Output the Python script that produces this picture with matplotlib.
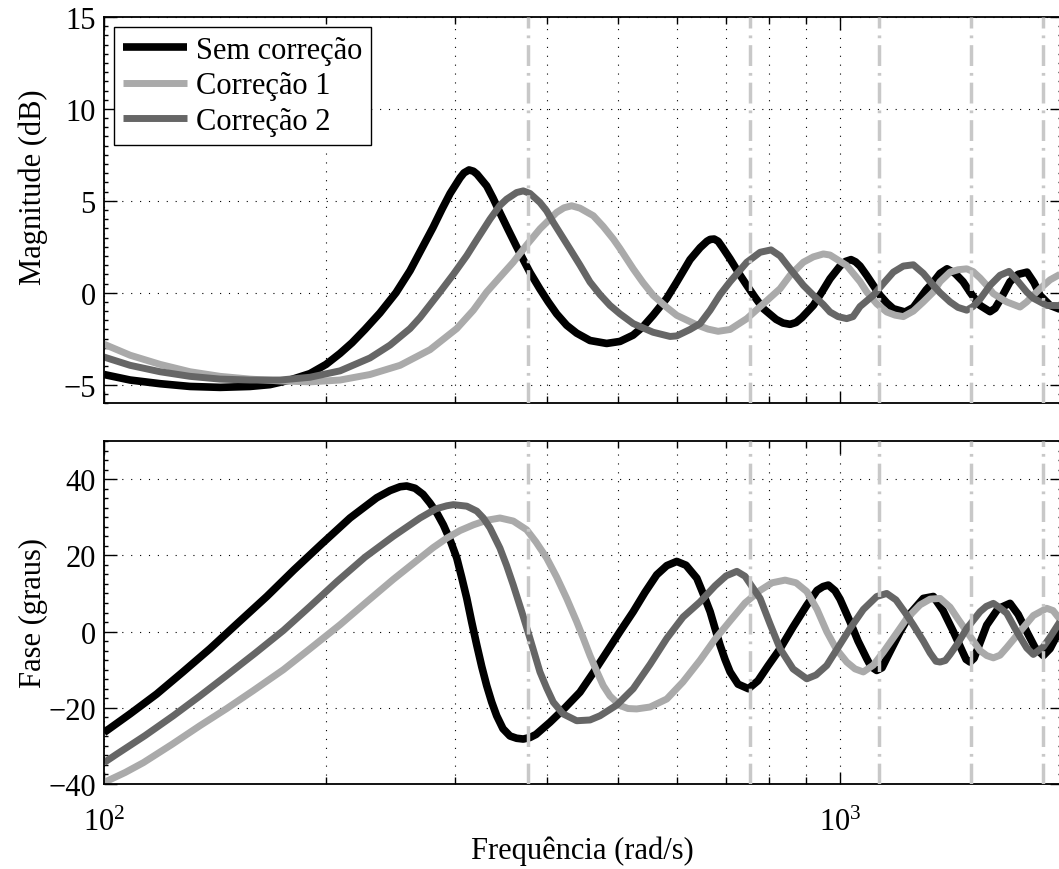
import numpy as np
import matplotlib
matplotlib.use('Agg')
import matplotlib.pyplot as plt
from matplotlib.ticker import LogLocator, NullFormatter, MultipleLocator

plt.rcParams['font.family'] = ['Liberation Serif', 'DejaVu Serif']
plt.rcParams['mathtext.fontset'] = 'custom'
plt.rcParams['mathtext.rm'] = 'Liberation Serif'
plt.rcParams['mathtext.it'] = 'Liberation Serif:italic'
plt.rcParams['font.size'] = 22

# Resposta em frequencia: (rad/s, valor)
mag_sem = [
    (100, -4.45), (108.5, -4.75), (119.2, -4.95), (130.9, -5.1), (143.8, -5.15), (157.9, -5.1),
    (168.1, -5.0), (178.9, -4.75), (190.5, -4.4), (200.3, -3.9), (209.3, -3.3), (217.3, -2.72),
    (226.2, -2.0), (237.1, -1.1), (249.3, 0.0), (260.5, 1.2), (269.4, 2.3), (279.9, 3.55),
    (287.9, 4.55), (295.3, 5.4), (304.6, 6.25), (308.4, 6.52), (313.3, 6.68), (317.6, 6.61),
    (321.2, 6.45), (331.1, 5.81), (337.7, 5.15), (345.1, 4.35), (353.9, 3.45), (363.6, 2.5),
    (371.2, 1.8), (379.1, 1.1), (391.1, 0.2), (401.4, -0.5), (412.1, -1.15), (425.2, -1.77),
    (438.7, -2.2), (457.4, -2.6), (481.9, -2.76), (502.4, -2.65), (523.3, -2.31), (539.9, -1.85),
    (557.1, -1.23), (581.6, -0.3), (600.0, 0.58), (625.5, 1.8), (645.5, 2.45), (659.6, 2.8),
    (666.1, 2.9), (674.5, 2.92), (682.9, 2.8), (691.3, 2.5), (709.0, 1.84), (731.6, 0.95),
    (747.1, 0.40), (766.4, -0.25), (786.9, -0.87), (818.7, -1.45), (836.8, -1.65), (855.4, -1.72),
    (871.4, -1.62), (887.8, -1.35), (919.9, -0.69), (945.3, 0.05), (969.2, 0.76), (1000, 1.45),
    (1017.4, 1.7), (1035, 1.8), (1049.7, 1.68), (1064.6, 1.45), (1087.1, 0.94), (1109.8, 0.4),
    (1133.3, -0.14), (1157.3, -0.55), (1181.4, -0.87), (1225.5, -1.05), (1257.8, -0.8),
    (1284.4, -0.3), (1309.0, 0.15), (1339.0, 0.58), (1367.4, 1.05), (1397.7, 1.3), (1433.1, 1.05),
    (1469.4, 0.6), (1506.6, -0.05), (1549.6, -0.69), (1598.8, -1.03), (1624.1, -0.85),
    (1649.8, -0.4), (1702.1, 0.6), (1745.8, 1.0), (1795, 1.12), (1834.7, 0.55), (1869.5, -0.14),
    (1928.9, -0.69), (1990, -0.9),
]
mag_c1 = [
    (100, -2.8), (108.5, -3.4), (119.2, -3.9), (130.9, -4.3), (143.8, -4.55), (157.9, -4.7),
    (173.5, -4.8), (190.5, -4.85), (209.3, -4.75), (229.8, -4.45), (252.5, -3.95), (277.3, -3.1),
    (301.5, -1.95), (317.6, -0.95), (331.1, 0.04), (345.1, 0.85), (359.8, 1.66), (375.2, 2.6),
    (391.1, 3.47), (412.1, 4.37), (421.7, 4.62), (431.9, 4.73), (443.3, 4.6), (462.1, 4.19),
    (476.8, 3.6), (492.0, 2.92), (502.4, 2.4), (523.6, 1.30), (539.9, 0.55), (557.3, -0.14),
    (581.6, -0.8), (600.0, -1.23), (638.9, -1.75), (661.7, -1.98), (682.9, -2.1), (709.0, -2.0),
    (747.1, -1.41), (786.9, -0.6), (829.0, 0.22), (855.4, 0.95), (891.7, 1.66), (919.9, 1.95),
    (949.2, 2.11), (969.2, 2.05), (1021.2, 1.48), (1064.6, 0.6), (1087.1, 0.04), (1121.6, -0.6),
    (1157.3, -1.05), (1187.8, -1.22), (1219.0, -1.3), (1257.8, -1.0), (1297.7, -0.5),
    (1339.0, 0.04), (1367.4, 0.6), (1410.9, 1.12), (1446.4, 1.25), (1486.5, 1.30), (1516.2, 1.15),
    (1549.6, 0.8), (1582.4, 0.40), (1615.4, -0.05), (1684.6, -0.5), (1756.1, -0.78),
    (1793.3, -0.5), (1834.7, -0.1), (1869.5, 0.22), (1928.9, 0.7), (1990, 1.0),
]
mag_c2 = [
    (100, -3.5), (108.5, -3.95), (119.2, -4.3), (130.9, -4.55), (143.8, -4.7), (157.9, -4.75),
    (173.5, -4.75), (190.5, -4.6), (209.3, -4.25), (229.8, -3.55), (244.7, -2.85), (260.5, -1.95),
    (268.8, -1.35), (286.1, 0.04), (298.3, 1.0), (311.1, 2.02), (321.2, 2.9), (334.5, 4.0),
    (345.1, 4.75), (352.4, 5.09), (363.6, 5.45), (371.2, 5.54), (379.1, 5.4), (391.1, 4.91),
    (399.4, 4.45), (407.7, 3.83), (429.6, 2.38), (443.3, 1.5), (457.4, 0.58), (471.9, -0.1),
    (486.9, -0.69), (502.4, -1.15), (523.6, -1.68), (557.1, -2.15), (587.6, -2.38), (600.0, -2.35),
    (625.5, -2.0), (645.5, -1.68), (666.1, -0.95), (687.2, -0.1), (709.0, 0.6), (747.1, 1.66),
    (778.8, 2.2), (806.0, 2.33), (829.0, 2.0), (855.4, 1.3), (891.7, 0.4), (919.9, -0.14),
    (949.2, -0.65), (969.2, -1.05), (993.8, -1.3), (1021.2, -1.41), (1041.5, -1.3),
    (1064.6, -0.75), (1109.8, -0.14), (1145.0, 0.5), (1181.4, 1.12), (1219.0, 1.45),
    (1257.8, 1.52), (1297.7, 1.05), (1339.0, 0.40), (1367.4, 0.0), (1410.9, -0.5), (1446.4, -0.8),
    (1486.5, -0.95), (1516.2, -0.75), (1549.6, -0.35), (1598.8, 0.4), (1649.8, 0.95),
    (1696.7, 1.16), (1738.1, 0.7), (1793.3, 0.04), (1830.7, -0.3), (1909.1, -0.69), (1990, -0.7),
]

fase_sem = [
    (100, -26.5), (108.5, -21.6), (117.9, -16.4), (128.0, -10.6), (139.3, -4.5), (152.1, 2.3),
    (166.4, 9.2), (181.2, 16.2), (197.6, 23.0), (215.9, 29.8), (234.7, 35.1), (244.7, 37.0),
    (252.5, 38.0), (257.8, 38.2), (264.6, 37.6), (271.3, 36.0), (277.3, 33.7), (283.5, 31.0),
    (289.1, 28.0), (295.3, 24.0), (301.5, 19.3), (306.2, 14.2), (311.1, 8.7), (315.9, 2.5),
    (321.0, -3.6), (326.0, -9.2), (331.1, -14.2), (336.3, -18.5), (341.6, -22.1), (348.4, -25.5),
    (356.1, -27.4), (363.6, -28.0), (371.2, -28.2), (379.1, -27.8), (386.3, -27.0), (403.6, -23.8),
    (423.0, -20.0), (443.3, -15.9), (462.1, -10.8), (481.9, -5.4), (502.4, 0.0), (523.6, 5.2),
    (543.3, 10.3), (563.6, 14.9), (581.6, 17.3), (600.0, 18.4), (617.7, 17.4), (638.9, 14.0),
    (651.5, 10.0), (666.1, 5.2), (676.4, 0.8), (687.2, -3.6), (697.8, -7.3), (709.0, -10.6),
    (726.8, -13.8), (750.8, -15.0), (773.7, -12.9), (798.3, -9.0), (829.0, -4.5), (863.3, 1.2),
    (901.2, 6.9), (930.6, 10.8), (948.3, 11.8), (964.0, 12.2), (984.5, 10.7), (1000, 8.5),
    (1031.8, 2.6), (1058.0, -2.5), (1087.1, -7.1), (1101.9, -9.2), (1121.6, -10.2), (1140.4, -9.5),
    (1157.3, -7.0), (1206.5, -0.1), (1248.8, 5.0), (1297.7, 8.7), (1339.0, 9.2), (1380.3, 5.5),
    (1425.5, 0.0), (1464.6, -5.0), (1483.4, -7.3), (1501.9, -8.0), (1520.9, -7.0), (1539.9, -4.3),
    (1582.4, 1.7), (1639.3, 6.0), (1702.1, 7.4), (1745.8, 4.5), (1793.3, 0.0), (1840.5, -4.2),
    (1888.9, -6.3), (1928.9, -4.5), (1990, 0.5),
]
fase_c1 = [
    (100, -39.6), (106.8, -37.0), (113.1, -34.4), (123.7, -29.6), (135.0, -24.7), (146.8, -20.2),
    (159.5, -15.5), (175.3, -10.0), (190.5, -4.5), (209.3, 1.8), (227.5, 7.8), (247.2, 13.7),
    (268.8, 19.3), (279.9, 22.0), (292.2, 24.5), (304.6, 26.5), (317.6, 28.0), (331.1, 29.2),
    (345.1, 29.8), (359.8, 29.0), (375.2, 26.7), (386.3, 23.5), (399.4, 19.3), (412.1, 14.3),
    (425.2, 8.7), (438.7, 2.6), (447.6, -1.6), (457.4, -6.3), (467.1, -10.4), (476.8, -14.2),
    (486.9, -16.9), (502.4, -19.4), (515.2, -20.2), (529.4, -20.3), (552.0, -19.8), (581.6, -17.7),
    (611.9, -13.2), (645.5, -7.5), (676.4, -2.0), (709.0, 2.8), (742.9, 7.5), (778.8, 10.8),
    (808.6, 12.8), (842.1, 13.5), (871.4, 12.8), (901.2, 10.5), (930.6, 5.8), (959.2, 0.0),
    (987.6, -4.5), (1021.2, -8.0), (1048.1, -9.8), (1075.6, -10.6), (1109.8, -8.8), (1145.0, -5.4),
    (1187.8, -1.0), (1232.1, 3.4), (1284.4, 7.0), (1325.2, 8.5), (1367.4, 8.7), (1410.9, 6.4),
    (1446.4, 3.3), (1486.5, 0.0), (1549.6, -5.0), (1582.4, -6.3), (1615.4, -6.9), (1649.8, -6.2),
    (1684.6, -4.2), (1756.1, 0.0), (1830.7, 4.2), (1909.1, 6.1), (1947.2, 5.5), (1990, 3.2),
]
fase_c2 = [
    (100, -34.4), (104.0, -32.2), (113.7, -27.3), (124.2, -22.1), (135.0, -16.9), (146.8, -11.5),
    (160.4, -5.7), (175.3, 0.3), (190.5, 6.6), (207.2, 13.1), (226.2, 19.5), (247.2, 25.0),
    (268.8, 29.8), (282.5, 32.2), (292.2, 33.0), (298.3, 33.3), (311.1, 32.9), (321.0, 31.6),
    (327.6, 29.8), (334.5, 27.2), (345.1, 21.9), (352.4, 17.3), (359.8, 12.2), (369.5, 5.2),
    (379.1, -1.8), (391.1, -10.6), (399.4, -14.8), (407.7, -18.5), (420.4, -21.6), (438.7, -23.4),
    (457.4, -23.2), (471.9, -22.1), (497.3, -19.3), (523.6, -15.0), (552.0, -8.6), (581.6, -1.8),
    (611.9, 3.8), (645.5, 7.8), (676.4, 12.0), (700.0, 14.6), (724.1, 15.8), (742.9, 14.5),
    (759.3, 11.8), (778.8, 8.7), (803.3, 2.0), (829.0, -4.5), (863.3, -9.8), (901.2, -12.4),
    (927.7, -11.4), (959.2, -8.9), (993.8, -4.2), (1031.8, 0.8), (1075.6, 5.8), (1121.6, 9.2),
    (1157.3, 10.0), (1191.4, 8.3), (1225.5, 5.0), (1257.8, 1.7), (1297.7, -2.5), (1325.2, -5.6),
    (1350.0, -7.8), (1367.4, -8.0), (1390.0, -7.6), (1410.9, -6.0), (1446.4, -3.0), (1486.5, 0.8),
    (1549.6, 5.2), (1580.0, 6.6), (1615.4, 7.4), (1650.0, 6.2), (1684.6, 4.8), (1738.1, 0.0),
    (1793.3, -4.3), (1830.7, -6.0), (1888.9, -4.0), (1928.9, -1.5), (1990, 2.6),
]

# harmonicas de 60 Hz (rad/s)
harmonicas = [377, 754, 1131, 1508, 1885]

rotulos = ['Sem correção', 'Correção 1', 'Correção 2']
cores = ['#000000', '#aaaaaa', '#666666']
larguras = [5.5, 5.0, 5.0]

W, H = 1059, 870
fig = plt.figure(figsize=(W / 100, H / 100), dpi=100)
ax_mag = fig.add_axes([104 / W, (H - 404) / H, 957.6 / W, 386 / H])
ax_fase = fig.add_axes([104 / W, (H - 785) / H, 957.6 / W, 343 / H])

grade = dict(color='k', linestyle=(0, (1, 7)), linewidth=0.8)


def estilo(ax, ylim, yticks, ymenor):
    ax.set_xscale('log')
    ax.set_xlim(100, 2000)
    ax.set_ylim(*ylim)
    ax.set_yticks(yticks)
    ax.xaxis.set_major_locator(LogLocator(base=10))
    ax.xaxis.set_minor_locator(LogLocator(base=10, subs=np.arange(2, 10)))
    ax.xaxis.set_minor_formatter(NullFormatter())
    ax.yaxis.set_minor_locator(MultipleLocator(ymenor))
    ax.tick_params(which='both', direction='in', top=True, right=True, width=1)
    ax.tick_params(which='major', length=9)
    ax.tick_params(axis='y', which='major', pad=6)
    ax.tick_params(axis='x', which='major', pad=17)
    ax.tick_params(which='minor', axis='x', length=5)
    ax.tick_params(which='minor', axis='y', length=3)
    ax.grid(True, which='major', **grade)
    ax.grid(True, which='minor', axis='x', **grade)
    for s in ax.spines.values():
        s.set_linewidth(1.3)
    ax.set_axisbelow(True)


series_mag = [mag_sem, mag_c1, mag_c2]
series_fase = [fase_sem, fase_c1, fase_c2]

for dados, cor, lw, rot in zip(series_mag, cores, larguras, rotulos):
    w, v = np.array(dados).T
    ax_mag.plot(w, v, color=cor, lw=lw, label=rot, solid_joinstyle='round', solid_capstyle='butt')
for dados, cor, lw in zip(series_fase, cores, larguras):
    w, v = np.array(dados).T
    ax_fase.plot(w, v, color=cor, lw=lw, solid_joinstyle='round', solid_capstyle='butt')

for ax in (ax_mag, ax_fase):
    for h in harmonicas:
        ax.axvline(h, color='#c8c8c8', lw=2.5, dashes=(6, 2, 0.8, 2), zorder=5)

estilo(ax_mag, (-6, 15), [-5, 0, 5, 10, 15], 0.5)
estilo(ax_fase, (-40, 50), [-40, -20, 0, 20, 40], 2.5)
ax_mag.tick_params(labelbottom=False)

ax_mag.set_ylabel('Magnitude (dB)')
ax_fase.set_ylabel('Fase (graus)')
ax_mag.yaxis.set_label_coords(-0.058, 0.562)
ax_fase.yaxis.set_label_coords(-0.058, 0.5)
ax_fase.set_xlabel('Frequência (rad/s)', labelpad=-1)

leg = ax_mag.legend(loc='upper left', fancybox=False, edgecolor='k', framealpha=1,
                    borderaxespad=0.33, handlelength=2.1, handletextpad=0.3,
                    labelspacing=0.22, borderpad=0.28)
leg.get_frame().set_linewidth(1.0)
leg.set_zorder(10)

fig.savefig('out.png', dpi=100)
